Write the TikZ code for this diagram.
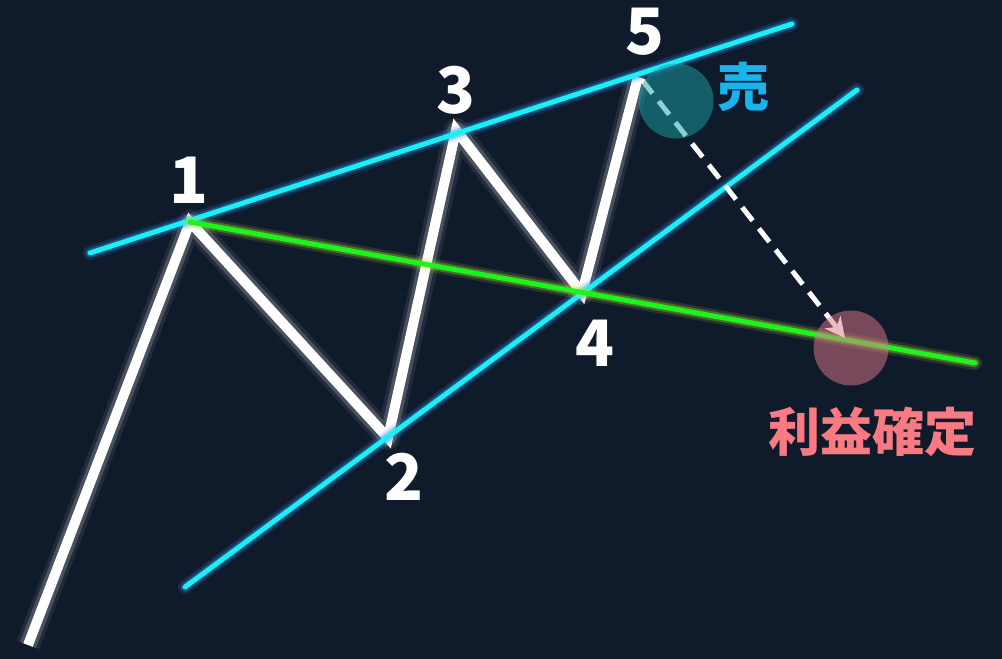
\documentclass[tikz,border=0pt]{standalone}
\usepackage{fontspec}
\newfontfamily\jpfont{Noto Sans CJK JP}
\usetikzlibrary{arrows.meta}

\definecolor{bgnavy}{HTML}{0F1A2B}
\definecolor{linecyan}{HTML}{19F0F5}
\definecolor{glowblue}{HTML}{2A8FE0}
\definecolor{linegreen}{HTML}{1CF51C}
\definecolor{glowgreen}{HTML}{B4E03C}
\definecolor{sellblue}{HTML}{18B4EC}
\definecolor{takepink}{HTML}{F87A82}
\definecolor{sellteal}{HTML}{1AA3AA}
\definecolor{takerose}{HTML}{E0788A}

\begin{document}
\begin{tikzpicture}[
    x=1pt,y=-1pt,
    wave/.style={
        draw=white,
        line width=10pt,
        line join=miter,
        preaction={draw=white,line width=24pt,opacity=0.08,line join=round},
        preaction={draw=white,line width=17pt,opacity=0.18,line join=round}
    },
    channel/.style={
        draw=linecyan,
        line width=5pt,
        line cap=round,
        preaction={draw=glowblue,line width=14pt,opacity=0.18,line cap=round},
        preaction={draw=glowblue,line width=9pt,opacity=0.35,line cap=round}
    },
    neckline/.style={
        draw=linegreen,
        line width=5pt,
        line cap=round,
        preaction={draw=glowgreen,line width=14pt,opacity=0.15,line cap=round},
        preaction={draw=glowgreen,line width=9pt,opacity=0.3,line cap=round}
    },
    target/.style={circle,minimum size=75pt,inner sep=0pt,fill opacity=0.5},
    label/.style={font=\jpfont\bfseries\fontsize{64}{64}\selectfont,text=white,inner sep=0pt},
    tag/.style={font=\jpfont\bfseries\fontsize{52}{52}\selectfont,inner sep=0pt}
]

\useasboundingbox (0,0) rectangle (1002,659);
\fill[bgnavy] (0,0) rectangle (1002,659);

% wave points
\coordinate (p0) at (28,645);
\coordinate (p1) at (190,222);
\coordinate (p2) at (388,438);
\coordinate (p3) at (456,130);
\coordinate (p4) at (582,293);
\coordinate (p5) at (638,77);

% line ends
\coordinate (u1) at (90,253);
\coordinate (u2) at (792,24);
\coordinate (l1) at (185,587);
\coordinate (l2) at (857,90);
\coordinate (g2) at (975,363);

\draw[wave] (p0)--(p1)--(p2)--(p3)--(p4)--(p5);

\draw[channel] (u1)--(u2);
\draw[channel] (l1)--(l2);
\draw[neckline] (p1)--(g2);

\coordinate (s0) at (642,80);
\coordinate (t0) at (845,338);
\draw[white,line width=5pt,dash pattern=on 17pt off 10pt,
      -{Stealth[length=20pt,width=20pt,inset=6pt]}] (s0)--(t0);

\node[target,fill=sellteal] (sell) at (676,101) {};
\node[target,fill=takerose] (take) at (851,348) {};

\node[label] (n1) at (189,180) {1};
\node[label] (n2) at (404,477) {2};
\node[label] (n3) at (456,90) {3};
\node[label] (n4) at (595,343) {4};
\node[label] (n5) at (645,32) {5};

\node[tag,text=sellblue] (uri) at (743,87) {売};
\node[tag,text=takepink] (kakutei) at (872,432) {利益確定};

\end{tikzpicture}
\end{document}
